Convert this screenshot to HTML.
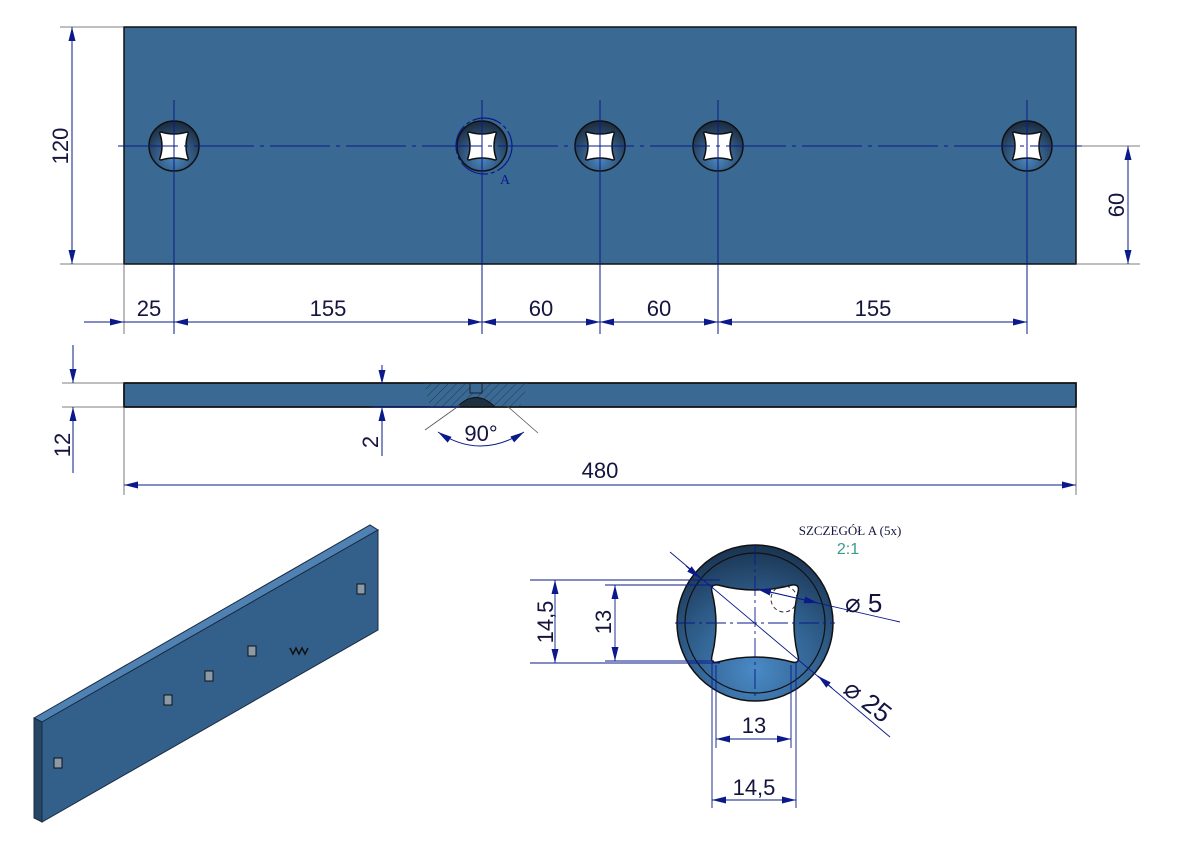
<!DOCTYPE html>
<html><head><meta charset="utf-8"><style>
html,body{margin:0;padding:0;background:#fff;}
svg{display:block;}
text{font-family:"Liberation Sans",sans-serif;fill:#14143f;}
</style></head><body>
<svg width="1191" height="842" viewBox="0 0 1191 842" xmlns="http://www.w3.org/2000/svg">
<defs>
<marker id="ar" viewBox="0 0 14 7" refX="14" refY="3.5" markerWidth="14" markerHeight="7" orient="auto-start-reverse" markerUnits="userSpaceOnUse"><path d="M0,0 L14,3.5 L0,7 z" fill="#0a1a8a"/></marker>
<radialGradient id="hg" cx="0.5" cy="0.75" r="0.7"><stop offset="0" stop-color="#4a86c0"/><stop offset="1" stop-color="#1c2f45"/></radialGradient>
<radialGradient id="dg" cx="0.5" cy="0.8" r="0.8"><stop offset="0" stop-color="#4a8ac6"/><stop offset="0.6" stop-color="#2d5a86"/><stop offset="1" stop-color="#1a3350"/></radialGradient>
<pattern id="hatch" width="6" height="6" patternUnits="userSpaceOnUse" patternTransform="rotate(45)"><rect width="6" height="6" fill="#3a6a93"/><line x1="0" y1="0" x2="0" y2="6" stroke="#1f3550" stroke-width="1"/></pattern>
<g id="hole">
<circle r="25" fill="url(#hg)" stroke="#111" stroke-width="1.5"/>
<path d="M-13,-14 Q0,-10 13,-14 Q15,-14 14,-12 Q10,0 14,12 Q15,14 13,14 Q0,10 -13,14 Q-15,14 -14,12 Q-10,0 -14,-12 Q-15,-14 -13,-14z" fill="#fff" stroke="#111" stroke-width="1.5"/>
</g>
</defs>

<rect x="124" y="27" width="952" height="237" fill="#3a6a93" stroke="#111" stroke-width="1.5"/>
<g fill="none" stroke="#555" stroke-width="0.8">
<line x1="60" y1="27" x2="124" y2="27"/><line x1="60" y1="264" x2="124" y2="264"/>
<line x1="1076" y1="264" x2="1140" y2="264"/><line x1="1030" y1="146" x2="1140" y2="146"/>
<line x1="124" y1="264" x2="124" y2="334"/>
</g>
<g stroke="#0a1a8a" stroke-width="1">
<line x1="174" y1="100" x2="174" y2="334"/><line x1="482" y1="100" x2="482" y2="334"/>
<line x1="600" y1="100" x2="600" y2="334"/><line x1="718" y1="100" x2="718" y2="334"/>
<line x1="1027" y1="100" x2="1027" y2="334"/>
</g>
<use href="#hole" x="174" y="146"/><use href="#hole" x="482" y="146"/><use href="#hole" x="600" y="146"/><use href="#hole" x="718" y="146"/><use href="#hole" x="1027" y="146"/>
<g stroke="#0a1a8a" stroke-width="1">
<line x1="174" y1="100" x2="174" y2="200"/><line x1="482" y1="100" x2="482" y2="200"/><line x1="600" y1="100" x2="600" y2="200"/><line x1="718" y1="100" x2="718" y2="200"/><line x1="1027" y1="100" x2="1027" y2="200"/>
</g>
<line x1="118" y1="146" x2="1082" y2="146" stroke="#0a1a8a" stroke-width="1" stroke-dasharray="60,6,4,6"/>
<circle cx="484" cy="146" r="28" fill="none" stroke="#0a1a8a" stroke-width="1.2" stroke-dasharray="30,3,4,3"/>
<text x="500" y="184" font-size="14" style="font-family:'Liberation Serif',serif;fill:#0a1a8a">A</text>

<g stroke="#0a1a8a" stroke-width="1" fill="none">
<line x1="72" y1="27" x2="72" y2="264" marker-start="url(#ar)" marker-end="url(#ar)"/>
<line x1="1128" y1="146" x2="1128" y2="264" marker-start="url(#ar)" marker-end="url(#ar)"/>
<line x1="84" y1="322" x2="124" y2="322" marker-end="url(#ar)"/>
<line x1="174" y1="322" x2="482" y2="322" marker-start="url(#ar)" marker-end="url(#ar)"/>
<line x1="482" y1="322" x2="600" y2="322" marker-start="url(#ar)" marker-end="url(#ar)"/>
<line x1="600" y1="322" x2="718" y2="322" marker-start="url(#ar)" marker-end="url(#ar)"/>
<line x1="718" y1="322" x2="1027" y2="322" marker-start="url(#ar)" marker-end="url(#ar)"/>
<line x1="124" y1="322" x2="174" y2="322"/>
</g>
<text font-size="22" transform="translate(68,146) rotate(-90)" text-anchor="middle">120</text>
<text font-size="22" transform="translate(1124,205) rotate(-90)" text-anchor="middle">60</text>
<text x="149" y="316" font-size="22" text-anchor="middle">25</text>
<text x="328" y="316" font-size="22" text-anchor="middle">155</text>
<text x="541" y="316" font-size="22" text-anchor="middle">60</text>
<text x="659" y="316" font-size="22" text-anchor="middle">60</text>
<text x="873" y="316" font-size="22" text-anchor="middle">155</text>

<rect x="124" y="383" width="952" height="24" fill="#3a6a93" stroke="#111" stroke-width="1.5"/>
<path d="M424,383 L528,383 L520,407 L430,407 Z" fill="url(#hatch)"/>
<path d="M457,407 Q476,388 495,407 Z" fill="#1f3040" stroke="#111"/>
<rect x="470" y="383" width="12" height="10" fill="#3a6a93" stroke="#111" stroke-width="0.8"/>
<rect x="124" y="383" width="952" height="24" fill="none" stroke="#111" stroke-width="1.5"/>
<g stroke="#555" stroke-width="0.8" fill="none">
<line x1="62" y1="383" x2="124" y2="383"/><line x1="62" y1="407" x2="124" y2="407"/>
<line x1="124" y1="407" x2="124" y2="495"/><line x1="1076" y1="407" x2="1076" y2="495"/>
<line x1="425" y1="430" x2="460" y2="405"/><line x1="538" y1="433" x2="506" y2="405"/>
</g>
<g stroke="#0a1a8a" stroke-width="1" fill="none">
<line x1="73" y1="345" x2="73" y2="383" marker-end="url(#ar)"/>
<line x1="73" y1="473" x2="73" y2="407" marker-end="url(#ar)"/>
<line x1="382" y1="365" x2="382" y2="384" marker-end="url(#ar)"/>
<line x1="382" y1="456" x2="382" y2="407" marker-end="url(#ar)"/>
<line x1="372" y1="407" x2="460" y2="407"/>
<line x1="124" y1="485" x2="1076" y2="485" marker-start="url(#ar)" marker-end="url(#ar)"/>
<path d="M438,432 Q480,460 524,432" marker-start="url(#ar)" marker-end="url(#ar)"/>
</g>
<text font-size="22" transform="translate(70,445) rotate(-90)" text-anchor="middle">12</text>
<text font-size="22" transform="translate(378,442) rotate(-90)" text-anchor="middle">2</text>
<text x="481" y="441" font-size="22" text-anchor="middle">90°</text>
<text x="600" y="478" font-size="22" text-anchor="middle">480</text>

<polygon points="34,718 370,525 378,530 42,722" fill="#4f82b3" stroke="#1a2a40" stroke-width="1"/>
<polygon points="42,722 378,530 378,630 42,822" fill="#33608a" stroke="#1a2a40" stroke-width="1"/>
<polygon points="34,718 42,722 42,822 34,818" fill="#244766" stroke="#1a2a40" stroke-width="1"/>
<g fill="#8a9aa8" stroke="#111" stroke-width="1">
<rect x="54" y="758" width="8" height="10"/><rect x="164" y="695" width="8" height="10"/><rect x="205" y="671" width="8" height="10"/><rect x="248" y="646" width="8" height="10"/><rect x="357" y="584" width="8" height="10"/>
</g>
<path d="M290,648 l3,6 l3,-6 l3,6 l3,-6 l3,6 l3,-6" fill="none" stroke="#111" stroke-width="1.5"/>

<text x="850" y="535" font-size="13" text-anchor="middle" style="font-family:'Liberation Serif',serif">SZCZEGÓŁ A (5x)</text>
<text x="848" y="554" font-size="16" style="fill:#3a9a8a" text-anchor="middle">2:1</text>
<circle cx="755" cy="623" r="78" fill="url(#dg)" stroke="#111" stroke-width="1.5"/>
<circle cx="755" cy="623" r="70" fill="none" stroke="#111" stroke-width="1.2"/>
<path d="M718,585 Q755,595 792,585 Q800,584 798,592 Q790,624 798,656 Q800,664 792,662 Q755,652 718,662 Q710,664 712,656 Q720,624 712,592 Q710,584 718,585z" fill="#fff" stroke="#111" stroke-width="1.5"/>
<circle cx="784" cy="599" r="13" fill="none" stroke="#333" stroke-dasharray="4,3"/>
<g stroke="#0a1a8a" stroke-width="0.9" fill="none">
<line x1="675" y1="623" x2="835" y2="623" stroke-dasharray="20,4,3,4"/>
<line x1="755" y1="545" x2="755" y2="700" stroke-dasharray="20,4,3,4"/>
<line x1="670" y1="552" x2="890" y2="737"/>
<line x1="530" y1="580" x2="720" y2="580"/><line x1="530" y1="663" x2="720" y2="663"/>
<line x1="605" y1="585" x2="714" y2="585"/><line x1="605" y1="661" x2="714" y2="661"/>
<line x1="712" y1="663" x2="712" y2="808"/><line x1="796" y1="663" x2="796" y2="808"/>
<line x1="716" y1="665" x2="716" y2="748"/><line x1="791" y1="665" x2="791" y2="748"/>
<line x1="555" y1="580" x2="555" y2="663" marker-start="url(#ar)" marker-end="url(#ar)"/>
<line x1="615" y1="585" x2="615" y2="661" marker-start="url(#ar)" marker-end="url(#ar)"/>
<line x1="716" y1="739" x2="791" y2="739" marker-start="url(#ar)" marker-end="url(#ar)"/>
<line x1="712" y1="800" x2="796" y2="800" marker-start="url(#ar)" marker-end="url(#ar)"/>
<line x1="757" y1="589" x2="900" y2="622"/>
<line x1="757" y1="589" x2="818" y2="603" marker-start="url(#ar)" marker-end="url(#ar)"/>
<line x1="686" y1="566" x2="700" y2="578" marker-end="url(#ar)"/>
<line x1="832" y1="688" x2="818" y2="676" marker-end="url(#ar)"/>
</g>
<text font-size="22" transform="translate(553,622) rotate(-90)" text-anchor="middle">14,5</text>
<text font-size="22" transform="translate(611,622) rotate(-90)" text-anchor="middle">13</text>
<text x="754" y="733" font-size="22" text-anchor="middle">13</text>
<text x="754" y="795" font-size="22" text-anchor="middle">14,5</text>
<text x="845" y="612" font-size="26">⌀ 5</text>
<text font-size="26" transform="translate(842,692) rotate(38)">⌀ 25</text>
</svg>
</body></html>
